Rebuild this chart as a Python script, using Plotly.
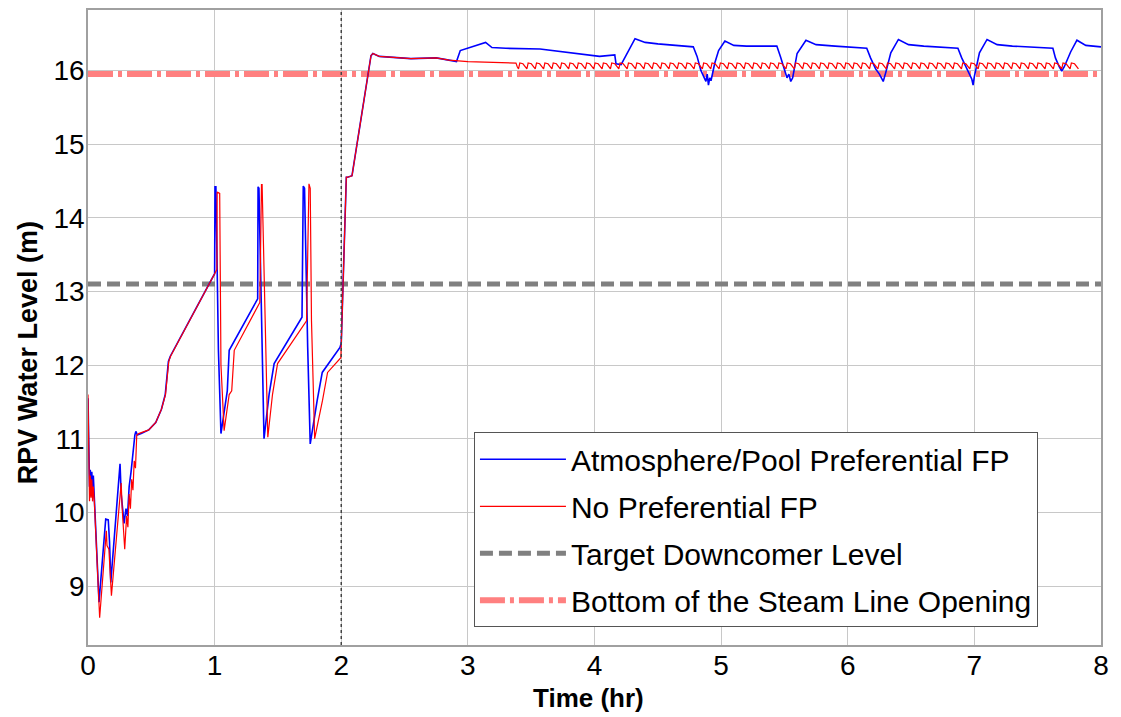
import plotly.graph_objects as go

# ---------------- data ----------------
blue_t = [0.000, 0.005, 0.012, 0.018, 0.024, 0.030, 0.036, 0.042, 0.048, 0.087,
          0.140, 0.160, 0.170, 0.180, 0.253, 0.262, 0.285, 0.300, 0.312, 0.325,
          0.340, 0.355, 0.370, 0.378, 0.390, 0.420, 0.480, 0.535, 0.580, 0.610,
          0.635, 0.650, 1.000, 1.003, 1.010, 1.013, 1.030, 1.050, 1.100, 1.115,
          1.340, 1.343, 1.350, 1.390, 1.430, 1.470, 1.690, 1.700, 1.710, 1.735,
          1.755, 1.810, 1.850, 1.990, 2.000, 2.040, 2.050, 2.085, 2.235, 2.250,
          2.300, 2.550, 2.750, 2.850, 2.910, 2.940, 3.000, 3.140, 3.190, 3.300,
          3.570, 3.830, 4.040, 4.160, 4.170, 4.210, 4.320, 4.400, 4.500, 4.780,
          4.810, 4.840, 4.860, 4.880, 4.890, 4.900, 4.910, 4.920, 4.950, 4.980,
          5.030, 5.100, 5.200, 5.440, 5.470, 5.500, 5.520, 5.535, 5.550, 5.565,
          5.600, 5.670, 5.750, 5.900, 6.150, 6.180, 6.220, 6.250, 6.265, 6.280,
          6.300, 6.340, 6.400, 6.480, 6.600, 6.870, 6.900, 6.940, 6.970, 6.980,
          6.990, 7.000, 7.040, 7.100, 7.180, 7.300, 7.620, 7.640, 7.670, 7.690,
          7.710, 7.760, 7.810, 7.880, 8.000]
blue_v = [11.55, 10.60, 10.35, 10.58, 10.22, 10.55, 10.30, 10.50, 10.25, 8.78,
          9.91, 9.90, 9.60, 9.05, 10.66, 10.25, 9.85, 10.05, 9.95, 10.35,
          10.55, 10.85, 11.05, 11.10, 11.05, 11.07, 11.12, 11.22, 11.40, 11.60,
          12.05, 12.12, 13.24, 14.42, 14.42, 14.10, 12.20, 11.07, 11.65, 12.20,
          12.90, 14.42, 14.40, 11.00, 11.60, 12.02, 12.65, 14.43, 14.40, 12.24,
          10.93, 11.52, 11.90, 12.24, 12.30, 14.55, 14.55, 14.57, 16.20, 16.23,
          16.19, 16.16, 16.17, 16.14, 16.12, 16.27, 16.30, 16.38, 16.31, 16.30,
          16.29, 16.24, 16.19, 16.21, 16.09, 16.08, 16.43, 16.38, 16.36, 16.32,
          16.19, 16.00, 15.92, 15.85, 15.95, 15.80, 15.90, 15.86, 16.10, 16.27,
          16.40, 16.34, 16.33, 16.33, 16.18, 16.00, 15.90, 15.95, 15.85, 15.90,
          16.23, 16.41, 16.35, 16.33, 16.30, 16.17, 16.02, 15.95, 15.90, 15.85,
          15.97, 16.24, 16.42, 16.35, 16.33, 16.30, 16.17, 16.02, 15.92, 15.88,
          15.80, 15.92, 16.24, 16.42, 16.35, 16.33, 16.30, 16.17, 16.05, 15.99,
          16.05, 16.25, 16.41, 16.34, 16.32]

red_t = [0.000, 0.005, 0.012, 0.018, 0.024, 0.030, 0.036, 0.042, 0.050, 0.092,
         0.145, 0.150, 0.165, 0.185, 0.262, 0.270, 0.290, 0.305, 0.315, 0.325,
         0.335, 0.345, 0.355, 0.365, 0.375, 0.385, 0.400, 0.480, 0.535, 0.580,
         0.612, 0.638, 0.652, 1.000, 1.018, 1.020, 1.040, 1.050, 1.075, 1.115,
         1.135, 1.155, 1.357, 1.370, 1.375, 1.420, 1.457, 1.497, 1.726, 1.745,
         1.755, 1.765, 1.790, 1.852, 1.892, 1.997, 2.040, 2.050, 2.085, 2.235,
         2.250, 2.300, 2.550, 2.750, 2.850, 3.000, 3.380, 3.390,
         3.400, 3.410, 3.435, 3.466, 3.476, 3.501, 3.532, 3.542, 3.567,
         3.598, 3.608, 3.633, 3.664, 3.674, 3.699, 3.730, 3.740, 3.765,
         3.796, 3.806, 3.831, 3.862, 3.872, 3.897, 3.928, 3.938, 3.963,
         3.994, 4.004, 4.029, 4.060, 4.070, 4.095, 4.126, 4.136, 4.161,
         4.192, 4.202, 4.227, 4.258, 4.268, 4.293, 4.324, 4.334, 4.359,
         4.390, 4.400, 4.425, 4.456, 4.466, 4.491, 4.522, 4.532, 4.557,
         4.588, 4.598, 4.623, 4.654, 4.664, 4.689, 4.720, 4.730, 4.755,
         4.786, 4.796, 4.821, 4.852, 4.862, 4.887, 4.918, 4.928, 4.953,
         4.984, 4.994, 5.019, 5.050, 5.060, 5.085, 5.116, 5.126, 5.151,
         5.182, 5.192, 5.217, 5.248, 5.258, 5.283, 5.314, 5.324, 5.349,
         5.380, 5.390, 5.415, 5.446, 5.456, 5.481, 5.512, 5.522, 5.547,
         5.578, 5.588, 5.613, 5.644, 5.654, 5.679, 5.710, 5.720, 5.745,
         5.776, 5.786, 5.811, 5.842, 5.852, 5.877, 5.908, 5.918, 5.943,
         5.974, 5.984, 6.009, 6.040, 6.050, 6.075, 6.106, 6.116, 6.141,
         6.172, 6.182, 6.207, 6.238, 6.248, 6.273, 6.304, 6.314, 6.339,
         6.370, 6.380, 6.405, 6.436, 6.446, 6.471, 6.502, 6.512, 6.537,
         6.568, 6.578, 6.603, 6.634, 6.644, 6.669, 6.700, 6.710, 6.735,
         6.766, 6.776, 6.801, 6.832, 6.842, 6.867, 6.898, 6.908, 6.933,
         6.964, 6.974, 6.999, 7.030, 7.040, 7.065, 7.096, 7.106, 7.131,
         7.162, 7.172, 7.197, 7.228, 7.238, 7.263, 7.294, 7.304, 7.329,
         7.360, 7.370, 7.395, 7.426, 7.436, 7.461, 7.492, 7.502, 7.527,
         7.558, 7.568, 7.593, 7.624, 7.634, 7.659, 7.690, 7.700, 7.725,
         7.756, 7.766, 7.791, 7.822, 7.832, 7.857, 7.888, 7.898, 7.923,
         7.954, 7.964, 7.989, 8.000]
red_v = [11.60, 10.55, 10.15, 10.50, 10.20, 10.45, 10.15, 10.35, 10.15, 8.57,
         9.75, 9.55, 9.50, 8.87, 10.40, 10.05, 9.50, 9.95, 9.80, 10.25,
         10.05, 10.45, 10.30, 10.70, 10.60, 11.05, 11.07, 11.12, 11.22, 11.40,
         11.60, 12.05, 12.12, 13.24, 13.30, 14.35, 14.33, 12.00, 11.11, 11.60,
         11.65, 12.20, 12.85, 14.45, 14.45, 11.02, 11.60, 12.02, 12.60, 14.46,
         14.40, 12.60, 11.00, 11.52, 11.90, 12.10, 14.55, 14.55, 14.57, 16.20,
         16.23, 16.19, 16.16, 16.17, 16.14, 16.12, 16.10, 16.05,
         16.02, 16.10, 16.09, 16.02, 16.10, 16.09, 16.02, 16.10, 16.09,
         16.02, 16.10, 16.09, 16.02, 16.10, 16.09, 16.02, 16.10, 16.09,
         16.02, 16.10, 16.09, 16.02, 16.10, 16.09, 16.02, 16.10, 16.09,
         16.02, 16.10, 16.09, 16.02, 16.10, 16.09, 16.02, 16.10, 16.09,
         16.02, 16.10, 16.09, 16.02, 16.10, 16.09, 16.02, 16.10, 16.09,
         16.02, 16.10, 16.09, 16.02, 16.10, 16.09, 16.02, 16.10, 16.09,
         16.02, 16.10, 16.09, 16.02, 16.10, 16.09, 16.02, 16.10, 16.09,
         16.02, 16.10, 16.09, 16.02, 16.10, 16.09, 16.02, 16.10, 16.09,
         16.02, 16.10, 16.09, 16.02, 16.10, 16.09, 16.02, 16.10, 16.09,
         16.02, 16.10, 16.09, 16.02, 16.10, 16.09, 16.02, 16.10, 16.09,
         16.02, 16.10, 16.09, 16.02, 16.10, 16.09, 16.02, 16.10, 16.09,
         16.02, 16.10, 16.09, 16.02, 16.10, 16.09, 16.02, 16.10, 16.09,
         16.02, 16.10, 16.09, 16.02, 16.10, 16.09, 16.02, 16.10, 16.09,
         16.02, 16.10, 16.09, 16.02, 16.10, 16.09, 16.02, 16.10, 16.09,
         16.02, 16.10, 16.09, 16.02, 16.10, 16.09, 16.02, 16.10, 16.09,
         16.02, 16.10, 16.09, 16.02, 16.10, 16.09, 16.02, 16.10, 16.09,
         16.02, 16.10, 16.09, 16.02, 16.10, 16.09, 16.02, 16.10, 16.09,
         16.02, 16.10, 16.09, 16.02, 16.10, 16.09, 16.02, 16.10, 16.09,
         16.02, 16.10, 16.09, 16.02, 16.10, 16.09, 16.02, 16.10, 16.09,
         16.02, 16.10, 16.09, 16.02, 16.10, 16.09, 16.02, 16.10, 16.09,
         16.02, 16.10, 16.09, 16.02, 16.10, 16.09, 16.02, 16.10, 16.09,
         16.02, 16.10, 16.09, 16.02, 16.10, 16.09, 16.02, 16.10, 16.09,
         16.02, 16.10, 16.09, 16.02]

time_span = [0.0, 8.0]
target_level = 13.1        # Target Downcomer Level (m)
steam_line_level = 15.95   # Bottom of the Steam Line Opening (m)
event_time = 2.0           # vertical dotted marker (hr)

x_ticks = [0, 1, 2, 3, 4, 5, 6, 7, 8]
y_ticks = [9, 10, 11, 12, 13, 14, 15, 16]

x_title = "Time (hr)"
y_title = "RPV Water Level (m)"

FONT = "Liberation Sans, Arial, sans-serif"

fig = go.Figure()

fig.add_trace(go.Scatter(
    x=time_span, y=[target_level, target_level], mode="lines",
    name="Target Downcomer Level", legendrank=3, legendgroup="c",
    line=dict(color="#808080", width=5, dash="13px,6px")))
fig.add_trace(go.Scatter(
    x=time_span, y=[steam_line_level, steam_line_level], mode="lines",
    name="Bottom of the Steam Line Opening", legendrank=4, legendgroup="d",
    line=dict(color="#ff8080", width=6, dash="25px,5px,4px,5px")))
fig.add_trace(go.Scatter(
    x=blue_t, y=blue_v, mode="lines",
    name="Atmosphere/Pool Preferential FP", legendrank=1, legendgroup="a",
    line=dict(color="#0000ff", width=1.6)))
fig.add_trace(go.Scatter(
    x=red_t, y=red_v, mode="lines",
    name="No Preferential FP", legendrank=2, legendgroup="b",
    line=dict(color="#ff0000", width=1.2)))

fig.add_vline(x=event_time, line=dict(color="#444444", width=1.5, dash="dot"))

# axis titles placed as annotations (positions tuned to the reference)
fig.add_annotation(
    text="<b>" + y_title + "</b>", textangle=-90,
    xref="paper", yref="paper", x=-0.059, y=0.46,
    xanchor="center", yanchor="middle", showarrow=False,
    font=dict(size=27, family=FONT, color="black"))
fig.add_annotation(
    text="<b>" + x_title + "</b>",
    xref="paper", yref="paper", x=0.494, y=-0.084,
    xanchor="center", yanchor="middle", showarrow=False,
    font=dict(size=26, family=FONT, color="black"))

fig.update_layout(
    width=1121, height=717,
    margin=dict(l=88, r=20, t=10, b=72, autoexpand=False),
    paper_bgcolor="white", plot_bgcolor="white",
    font=dict(family=FONT, color="black"),
    showlegend=True,
    legend=dict(
        x=0.381, y=0.335, xanchor="left", yanchor="top",
        bgcolor="white", bordercolor="#555555", borderwidth=1,
        font=dict(size=30, family=FONT, color="black"),
        tracegroupgap=5, itemwidth=86,
    ),
)
fig.update_xaxes(
    range=[0, 8], tickvals=x_ticks, ticktext=[str(v) for v in x_ticks],
    showgrid=True, gridcolor="#c8c8c8", gridwidth=1,
    showline=True, linecolor="#a0a0a0", linewidth=1.5, mirror=True,
    zeroline=False, ticks="outside", ticklen=0, tickcolor="white",
    ticklabelstandoff=-5, automargin=False,
    tickfont=dict(size=28, family=FONT),
)
fig.update_yaxes(
    range=[8.2, 16.82], tickvals=y_ticks, ticktext=[str(v) for v in y_ticks],
    showgrid=True, gridcolor="#c8c8c8", gridwidth=1,
    showline=True, linecolor="#a0a0a0", linewidth=1.5, mirror=True,
    zeroline=False, ticks="outside", ticklen=0, tickcolor="white",
    ticklabelstandoff=-4, automargin=False,
    tickfont=dict(size=28, family=FONT),
)

fig.write_html("out.html", config={"displayModeBar": False},
               post_script="document.body.style.margin='0';")
